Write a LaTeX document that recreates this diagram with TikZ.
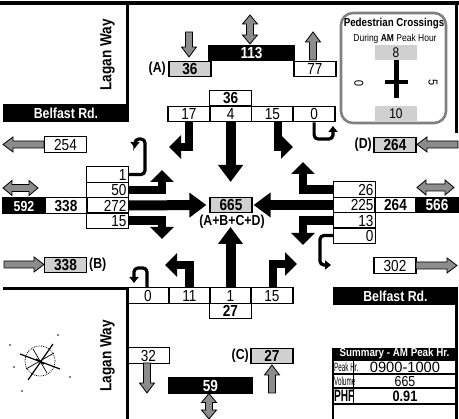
\documentclass[tikz,border=0pt]{standalone}
\usepackage{fontspec}
\usepackage{graphicx}
\setmainfont{Liberation Sans}[FakeStretch=0.85]
\usetikzlibrary{arrows.meta}
\definecolor{lgrey}{HTML}{D0D0D0}
\definecolor{agrey}{HTML}{8C8C8C}
\definecolor{pgrey}{HTML}{808080}
\newcommand{\fsz}[1]{\fontsize{#1}{#1}\selectfont}
\tikzset{
  road/.style={line width=3.6pt},
  box/.style={draw=black, line width=1.3pt, inner sep=0pt, minimum width=42pt, minimum height=15.5pt, text height=11.3pt, text depth=0pt, font=\fsz{16}},
  gbox/.style={box, fill=lgrey, font=\bfseries\fsz{16}},
  bbox/.style={box, fill=black, text=white, font=\bfseries\fsz{16}},
  wbox/.style={box, font=\bfseries\fsz{16}},
  thru/.style={line width=10pt, -{Triangle[width=24pt,length=17pt]}},
  turn/.style={line width=8.5pt, -{Triangle[width=23pt,length=12pt]}},
  uturn/.style={line width=3.2pt, rounded corners=4pt, -{Triangle[width=9pt,length=6pt]}},
  lbl/.style={font=\bfseries\fsz{14.5}, inner sep=0pt},
  rdtxt/.style={font=\bfseries\fsz{16}, inner sep=0pt},
  garrowstyle/.style={draw=black, fill=agrey, line width=0.8pt},
  pics/garr/.style={code={\path[garrowstyle] (0,-3.5) -- ({#1-10},-3.5) -- ({#1-10},-7.5) -- (#1,0) -- ({#1-10},7.5) -- ({#1-10},3.5) -- (0,3.5) -- cycle;}},
  pics/gdarr/.style={code={\path[garrowstyle] (0,0) -- (9,-7.5) -- (9,-3.5) -- ({#1-9},-3.5) -- ({#1-9},-7.5) -- (#1,0) -- ({#1-9},7.5) -- ({#1-9},3.5) -- (9,3.5) -- (9,7.5) -- cycle;}},
}
\begin{document}
\begin{tikzpicture}[x=1pt,y=-1pt]
\fill[white] (0,0) rectangle (459,419);
\useasboundingbox (0,0) rectangle (459,419);

% road edges
\draw[road] (0,3) -- (459,3);
\draw[road] (127.5,3) -- (127.5,112);
\draw[road] (456.5,3) -- (456.5,133);
\draw[road] (3,288.5) -- (129,288.5);
\draw[road] (127.5,288.5) -- (127.5,419);
\draw[road] (456.5,305) -- (456.5,419);
\node[fill=black, minimum width=126pt, minimum height=18pt, inner sep=0pt, text=white, font=\bfseries\fsz{14.5}] (brw) at (66,113) {Belfast Rd.};
\node[fill=black, minimum width=125pt, minimum height=18pt, inner sep=0pt, text=white, font=\bfseries\fsz{14.5}] (bre) at (395.5,296) {Belfast Rd.};
\node[rotate=90, rdtxt] (lwn) at (107.5,55) {Lagan Way};
\node[rotate=90, rdtxt] (lws) at (107.5,356) {Lagan Way};

% center
\node[gbox] (c665) at (231,205) {665};
\node[lbl] (csum) at (232,222) {(A+B+C+D)};

% north
\node[bbox, minimum width=85pt] (n113) at (251.5,53) {113};
\node[lbl, anchor=east] (la) at (166,69) {(A)};
\node[gbox] (na) at (190,69) {36};
\node[box] (n77) at (315,69) {77};
\pic[rotate=-90] at (189,32) {garr=25};
\pic[rotate=-90] at (250,15) {gdarr=29};
\pic[rotate=90] at (313,60) {garr=28};
\node[wbox] (ntot) at (230.6,98) {36};
\node[box] (n17) at (188.9,114) {17};
\node[box] (n4) at (230.6,114) {4};
\node[box] (n15) at (272.4,114) {15};
\node[box] (n0) at (314.1,114) {0};
\draw[turn] (n17.south) |- (169,147);
\draw[thru] (n4.south) -- (230.6,182);
\draw[turn] ([xshift=5.5pt]n15.south) |- (293,147);
\draw[uturn] (n0.south) -- (314.1,139) -- (333,139) -- (333,126);

% west
\pic[rotate=180] at (44,144.5) {garr=41};
\node[box] (w254) at (65.5,144.5) {254};
\pic at (3,188) {gdarr=35};
\node[bbox, font=\bfseries\fsz{14.5}] (w592) at (24,205.5) {592};
\node[wbox] (w338) at (66,205.5) {338};
\node[box] (w1) at (107.5,174.5) {\makebox[38pt][r]{1}};
\node[box] (w50) at (107.5,190) {\makebox[38pt][r]{50}};
\node[box] (w272) at (107.5,205.5) {\makebox[38pt][r]{272}};
\node[box] (w15) at (107.5,220.5) {\makebox[38pt][r]{15}};
\pic at (4,264.5) {garr=40};
\node[gbox] (wb) at (65.5,265) {338};
\node[lbl, anchor=west] (lb) at (89,265) {(B)};
\draw[uturn] (w1.east) -- (145,174.5) -- (145,139) -- (135,139) -- (135,148);
\draw[turn] (w50.east) -| (162,170);
\draw[thru] (w272.east) -- ([xshift=-3pt]c665.west);
\draw[turn] (w15.east) -| (162,239);

% east
\node[box] (e26) at (354.5,189.5) {\makebox[38pt][r]{26}};
\node[box] (e225) at (354.5,205) {\makebox[38pt][r]{225}};
\node[box] (e13) at (354.5,220.5) {\makebox[38pt][r]{13}};
\node[box] (e0) at (354.5,235.5) {\makebox[38pt][r]{0}};
\node[wbox] (e264) at (395.5,205) {264};
\node[bbox] (e566) at (437,205) {566};
\pic at (417,187.5) {gdarr=37};
\node[lbl, anchor=east] (ld) at (372,145) {(D)};
\node[gbox] (ed) at (395,145) {264};
\pic[rotate=180] at (458,144.5) {garr=41};
\node[box] (e302) at (395,265.5) {302};
\pic at (416,265.5) {garr=41};
\draw[turn] (e26.west) -| (303,162);
\draw[thru] (e225.west) -- ([xshift=1pt]c665.east);
\draw[turn] (e13.west) -| (303,245);
\draw[uturn] (e0.west) -- (320,235.5) -- (320,265) -- (331,265);

% south
\node[box] (s0) at (148,295.5) {0};
\node[box] (s11) at (189.5,295.5) {11};
\node[box] (s1) at (230.5,295.5) {1};
\node[box] (s15) at (272,295.5) {15};
\node[wbox] (stot) at (230.5,311) {27};
\draw[uturn] ([xshift=-1pt]s0.north) -- (147,268) -- (134,268) -- (134,283);
\draw[turn] (s11.north) |- (165,265);
\draw[thru] (s1.north) -- (230.5,227);
\draw[turn] ([xshift=1pt]s15.north) |- (297,264);

\node[box] (s32) at (148.5,355.5) {32};
\pic[rotate=-90] at (147,363) {garr=30};
\node[bbox, minimum width=83pt] (s59) at (210.5,385.5) {59};
\pic[rotate=-90] at (209,393.5) {gdarr=25.5};
\node[lbl, anchor=east] (lc) at (249,356) {(C)};
\node[gbox] (sc) at (272,356) {27};
\pic[rotate=90] at (272,393) {garr=28};

% pedestrian crossings
\node[draw=pgrey, line width=2.6pt, rounded corners=12pt, minimum width=105pt, minimum height=110pt, inner sep=0pt] (ped) at (393.5,68) {};
\node[font=\bfseries\fsz{11.5}, inner sep=0pt] (pedt) at (394,24) {Pedestrian Crossings};
\node[font=\fsz{10}, inner sep=0pt] (pedd) at (395,39) {During \textbf{AM} Peak Hour};
\node[fill=lgrey, minimum width=42pt, minimum height=15pt, inner sep=0pt, font=\fsz{14}] (pn) at (396,52.5) {8};
\node[fill=lgrey, minimum width=42pt, minimum height=15pt, inner sep=0pt, font=\fsz{14}] (ps) at (396,113.5) {10};
\draw[line width=4.5pt] (396.5,60) -- (396.5,98);
\draw[line width=4pt] (385,82) -- (408,82);
\node[rotate=90, font=\fsz{13}, inner sep=0pt] (pw) at (359,83) {0};
\node[rotate=-90, font=\fsz{13}, inner sep=0pt] (pe) at (433,83) {5};

% summary
\node[fill=black, text=white, minimum width=123pt, minimum height=12pt, inner sep=0pt, font=\bfseries\fsz{11.5}] (sumt) at (394.5,354) {Summary - AM Peak Hr.};
\draw[line width=1.3pt] (333,348) -- (333,419);
\draw[line width=1.3pt] (333,360.5) -- (456,360.5) (333,374) -- (456,374) (333,388) -- (456,388) (333,404) -- (456,404);
\draw[line width=1.3pt] (353.5,360.5) -- (353.5,404);
\node[anchor=west, inner sep=0pt, font=\fsz{12}] (sph) at (334,367.5) {\scalebox{0.62}[1]{Peak Hr.}};
\node[inner sep=0pt, font=\fsz{15}] (spv) at (405,367.5) {\scalebox{1.15}[1]{0900-1000}};
\node[anchor=west, inner sep=0pt, font=\fsz{12}] (svl) at (334,381) {\scalebox{0.62}[1]{Volume}};
\node[inner sep=0pt, font=\fsz{14.5}] (svv) at (405,381.5) {665};
\node[anchor=west, inner sep=0pt, font=\bfseries\fsz{16.5}] (spl) at (334,396) {\scalebox{0.72}[1]{PHF}};
\node[inner sep=0pt, font=\bfseries\fsz{15}] (spf) at (405,396) {0.91};

% compass
\begin{scope}[shift={(40,361)}]
\draw[densely dotted, line width=0.8pt] (0,0) circle[radius=15pt];
\draw[line width=1.2pt] (-12,19) -- (13,-17);
\draw[line width=1.2pt] (-20,-7) -- (20,8);
\draw[line width=0.7pt] (-7,-12) -- (7,12);
\draw[line width=0.7pt] (-14,8) -- (14,-8);
\draw[line width=1.6pt] (-4,-2) -- (4,3);
\fill (-30,-16) circle[radius=0.8pt];
\fill (18,-26) circle[radius=0.8pt];
\fill (30,16) circle[radius=0.8pt];
\fill (-18,30) circle[radius=0.8pt];
\fill (-26,6) circle[radius=0.8pt];
\end{scope}
\end{tikzpicture}
\end{document}
